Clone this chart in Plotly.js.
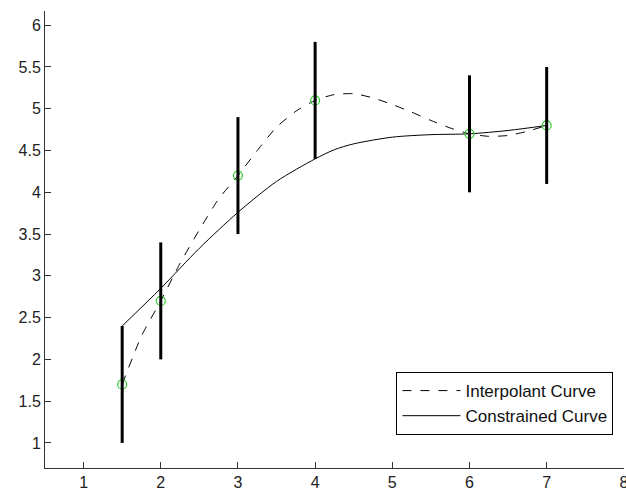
<!DOCTYPE html>
<html>
<head>
<meta charset="utf-8">
<script src="https://cdn.plot.ly/plotly-3.0.1.min.js"></script>
<style>
  html, body { margin: 0; padding: 0; background: #fff; }
  #chart { width: 626px; height: 493px; }
</style>
</head>
<body>
<div id="chart"></div>
<script>
// Measured data points
const dataX = [1.5, 2, 3, 4, 6, 7];
const dataY = [1.7, 2.7, 4.2, 5.1, 4.7, 4.8];
const errY  = [0.7, 0.7, 0.7, 0.7, 0.7, 0.7];

// Interpolant curve
const interpX = [1.5, 1.75, 2, 2.25, 2.5, 2.75, 3, 3.25, 3.5, 3.75, 4, 4.25, 4.5, 4.75, 5, 5.25, 5.5, 5.75, 6, 6.25, 6.5, 6.75, 7];
const interpY = [1.7, 2.28, 2.7, 3.15, 3.55, 3.92, 4.2, 4.5, 4.78, 4.97, 5.1, 5.17, 5.18, 5.13, 5.05, 4.96, 4.86, 4.77, 4.7, 4.67, 4.68, 4.73, 4.8];

// Constrained curve
const constrX = [1.5, 2, 2.5, 3, 3.5, 4, 4.25, 4.5, 5, 5.5, 6, 6.5, 7];
const constrY = [2.4, 2.85, 3.33, 3.76, 4.13, 4.4, 4.51, 4.58, 4.66, 4.69, 4.7, 4.74, 4.8];

const xTicks = [1, 2, 3, 4, 5, 6, 7, 8];
const yTicks = [1, 1.5, 2, 2.5, 3, 3.5, 4, 4.5, 5, 5.5, 6];
const legendNames = ['Interpolant Curve', 'Constrained Curve'];

const traces = [
  {
    x: interpX, y: interpY, type: 'scatter', mode: 'lines', name: legendNames[0],
    line: { color: '#000', width: 1, dash: 'dash', shape: 'spline', smoothing: 0.6 },
    hoverinfo: 'skip'
  },
  {
    x: constrX, y: constrY, type: 'scatter', mode: 'lines', name: legendNames[1],
    line: { color: '#000', width: 1, shape: 'spline', smoothing: 0.8 },
    hoverinfo: 'skip'
  },
  {
    x: dataX, y: dataY, type: 'scatter', mode: 'markers', showlegend: false,
    marker: { symbol: 'circle-open', size: 9, color: '#2ecc2e', line: { width: 1.2, color: '#2ecc2e' } },
    hoverinfo: 'skip'
  },
  {
    x: dataX, y: dataY, type: 'scatter', mode: 'markers', showlegend: false,
    marker: { size: 1, color: 'rgba(0,0,0,0)' },
    error_y: { type: 'data', array: errY, visible: true, color: '#000', thickness: 3, width: 0 },
    hoverinfo: 'skip'
  }
];

const layout = {
  width: 626, height: 493,
  margin: { l: 45, r: 2, t: 11, b: 25 },
  paper_bgcolor: '#fff', plot_bgcolor: '#fff',
  font: { family: 'Liberation Sans, Arial, sans-serif', color: '#222', size: 16 },
  showlegend: true,
  xaxis: {
    range: [0.5, 8.002], tickvals: xTicks, ticktext: xTicks.map(String),
    showgrid: false, zeroline: false, showline: true, linecolor: '#333', linewidth: 1,
    ticks: 'inside', ticklen: 6, tickcolor: '#333', tickfont: { size: 16 }, automargin: false,
    ticklabeloverflow: 'allow'
  },
  yaxis: {
    range: [0.7, 6.17], tickvals: yTicks, ticktext: yTicks.map(String),
    showgrid: false, zeroline: false, showline: true, linecolor: '#333', linewidth: 1,
    ticks: 'inside', ticklen: 6, tickcolor: '#333', tickfont: { size: 16 }, automargin: false
  },
  legend: {
    x: 0.607, y: 0.21, xanchor: 'left', yanchor: 'top',
    bgcolor: '#fff', bordercolor: '#000', borderwidth: 1,
    font: { size: 17, color: '#111' }, itemwidth: 58, tracegroupgap: 0
  }
};

Plotly.newPlot('chart', traces, layout, { staticPlot: true, displayModeBar: false });
</script>
</body>
</html>
